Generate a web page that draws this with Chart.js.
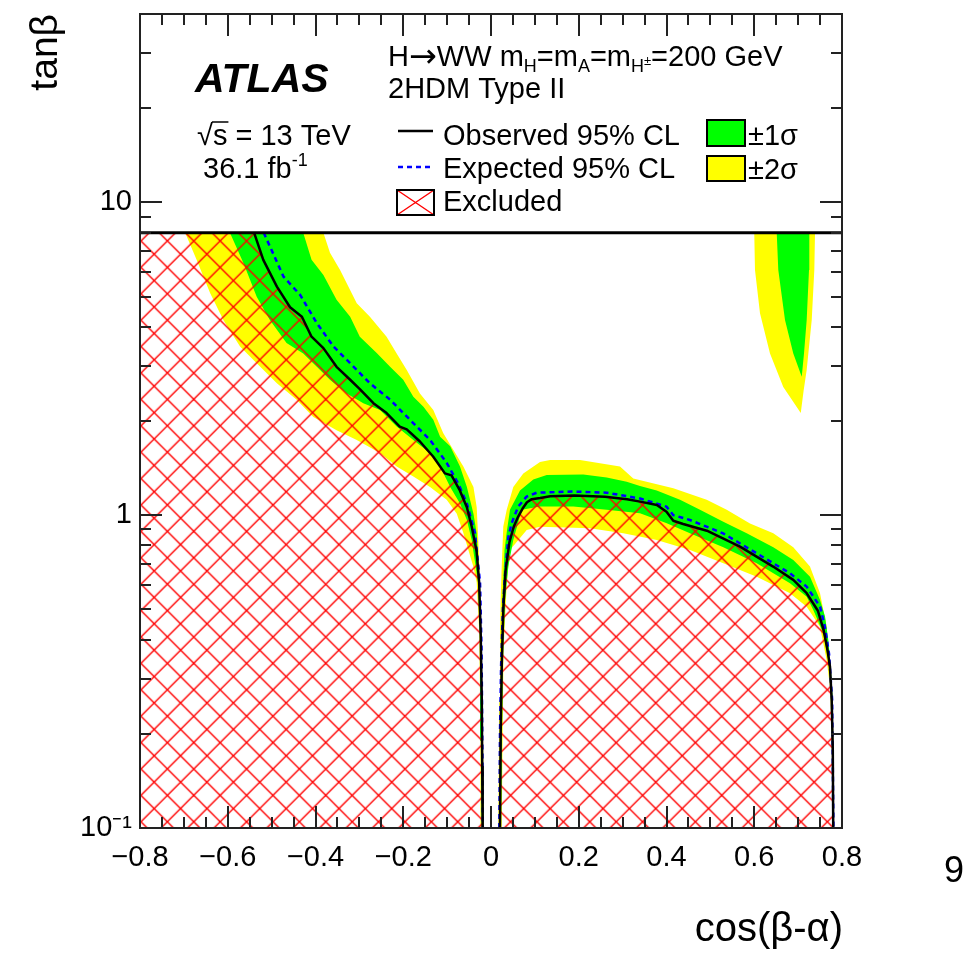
<!DOCTYPE html>
<html>
<head>
<meta charset="utf-8">
<title>tanβ vs cos(β-α)</title>
<script src="https://cdn.jsdelivr.net/npm/chart.js@4.4.1/dist/chart.umd.min.js"></script>
<style>
  html, body { margin: 0; padding: 0; background: #fff; }
  canvas { display: block; }
</style>
</head>
<body>
<canvas id="limits" width="971" height="953"></canvas>
<script>
const FONT = '"Liberation Sans", Arial, Helvetica, sans-serif';

// axes
const xRange = [-0.8, 0.8];
const yRange = [0.1, 40];
const yCut = 8; // contours end under the legend pad
const xTickValues = [-0.8, -0.6, -0.4, -0.2, 0, 0.2, 0.4, 0.6, 0.8];
const xTickLabels = ['−0.8', '−0.6', '−0.4', '−0.2', '0', '0.2', '0.4', '0.6', '0.8'];
const yTickValues = [0.1, 1, 10];
const yTickLabels = ['10⁻¹', '1', '10'];

// contours as [cos(β-α), tanβ]
const observedLeft = [
  [-0.540, 8.0], [-0.519, 6.55], [-0.488, 5.38], [-0.458, 4.62], [-0.431, 4.31], [-0.409, 3.72],
  [-0.382, 3.42], [-0.352, 2.98], [-0.321, 2.71], [-0.299, 2.53], [-0.268, 2.28], [-0.238, 2.12],
  [-0.208, 1.92], [-0.192, 1.88], [-0.162, 1.72], [-0.132, 1.54], [-0.105, 1.36], [-0.090, 1.34],
  [-0.071, 1.20], [-0.055, 1.06], [-0.044, 0.92], [-0.033, 0.77], [-0.027, 0.61], [-0.0235, 0.42],
  [-0.021, 0.256], [-0.020, 0.157], [-0.019, 0.1]
];
const observedRight = [
  [0.0205, 0.1], [0.022, 0.2], [0.0245, 0.33], [0.028, 0.5], [0.033, 0.66], [0.042, 0.82],
  [0.052, 0.92], [0.062, 0.99], [0.072, 1.05], [0.082, 1.10], [0.093, 1.125], [0.112, 1.135],
  [0.135, 1.15], [0.19, 1.155], [0.26, 1.145], [0.31, 1.125], [0.34, 1.105], [0.378, 1.078],
  [0.40, 1.026], [0.4155, 0.96], [0.438, 0.937], [0.492, 0.892], [0.5675, 0.793], [0.643, 0.685],
  [0.689, 0.621], [0.7195, 0.563], [0.745, 0.495], [0.758, 0.43], [0.767, 0.37], [0.7726, 0.328],
  [0.7765, 0.257], [0.779, 0.178], [0.780, 0.1]
];
const expectedLeft = [
  [-0.518, 8.0], [-0.473, 5.79], [-0.435, 5.06], [-0.397, 4.11], [-0.359, 3.46], [-0.321, 3.06],
  [-0.276, 2.64], [-0.230, 2.34], [-0.185, 2.02], [-0.139, 1.74], [-0.101, 1.47], [-0.0745, 1.26],
  [-0.055, 1.09], [-0.0365, 0.875], [-0.025, 0.61], [-0.0215, 0.37], [-0.0194, 0.165], [-0.0187, 0.1]
];
const expectedRight = [
  [0.019, 0.1], [0.0205, 0.2], [0.023, 0.33], [0.027, 0.5], [0.031, 0.62], [0.0395, 0.85],
  [0.047, 0.942], [0.062, 1.065], [0.081, 1.146], [0.104, 1.18], [0.1876, 1.19], [0.264, 1.18],
  [0.34, 1.13], [0.40, 1.065], [0.4155, 1.0], [0.4535, 0.965], [0.529, 0.875], [0.6056, 0.755],
  [0.6815, 0.652], [0.7195, 0.591], [0.75, 0.51], [0.761, 0.44], [0.7705, 0.36], [0.7775, 0.257],
  [0.7805, 0.1]
];

// ±2σ band edges
const yellowLeftOuter = [
  [-0.382, 8.0], [-0.367, 6.9], [-0.344, 6.08], [-0.306, 4.76], [-0.276, 4.31], [-0.238, 3.72],
  [-0.215, 3.29], [-0.192, 2.91], [-0.162, 2.45], [-0.1315, 2.17], [-0.109, 1.83], [-0.086, 1.62],
  [-0.063, 1.43], [-0.040, 1.23], [-0.0326, 1.06], [-0.029, 0.833], [-0.025, 0.61], [-0.0217, 0.37],
  [-0.018, 0.19], [-0.016, 0.1]
];
const yellowLeftInner = [
  [-0.0228, 0.1], [-0.024, 0.19], [-0.0267, 0.42], [-0.0326, 0.61], [-0.040, 0.683], [-0.063, 0.877],
  [-0.078, 1.01], [-0.101, 1.12], [-0.139, 1.23], [-0.177, 1.33], [-0.215, 1.43], [-0.253, 1.58],
  [-0.306, 1.74], [-0.352, 1.87], [-0.405, 2.06], [-0.443, 2.34], [-0.488, 2.64], [-0.534, 3.06],
  [-0.572, 3.46], [-0.610, 4.21], [-0.640, 5.12], [-0.671, 6.55], [-0.697, 8.0]
];
const yellowRightOuter = [
  [0.0166, 0.1], [0.0189, 0.257], [0.0205, 0.42], [0.0221, 0.536], [0.0244, 0.685], [0.028, 0.92],
  [0.0358, 1.04], [0.0508, 1.23], [0.0736, 1.36], [0.1117, 1.48], [0.1345, 1.50], [0.2028, 1.50],
  [0.294, 1.43], [0.3243, 1.31], [0.4155, 1.22], [0.4916, 1.12], [0.5372, 1.04], [0.5903, 0.94],
  [0.6434, 0.875], [0.689, 0.79], [0.727, 0.685], [0.7499, 0.563], [0.7651, 0.44], [0.7688, 0.371],
  [0.7765, 0.291], [0.7802, 0.2], [0.7818, 0.1]
];
const yellowRightInner = [
  [0.7788, 0.1], [0.7765, 0.2], [0.7726, 0.283], [0.7651, 0.344], [0.7499, 0.44], [0.7195, 0.51],
  [0.6815, 0.563], [0.6056, 0.636], [0.5295, 0.702], [0.4535, 0.774], [0.3777, 0.833], [0.3015, 0.875],
  [0.2256, 0.908], [0.1117, 0.918], [0.0814, 0.897], [0.0433, 0.774], [0.0358, 0.60], [0.0285, 0.37],
  [0.0244, 0.1]
];
const yellowIsland = [
  [0.600, 8.0], [0.6017, 6.08], [0.6131, 4.42], [0.6359, 3.29], [0.6662, 2.57], [0.706, 2.12],
  [0.7125, 2.5], [0.7195, 2.91], [0.731, 4.21], [0.7369, 6.08], [0.7385, 8.0]
];

// ±1σ band edges
const greenLeftOuter = [
  [-0.428, 8.0], [-0.409, 6.55], [-0.382, 5.86], [-0.352, 4.88], [-0.321, 4.31], [-0.299, 3.72],
  [-0.2605, 3.30], [-0.230, 2.98], [-0.200, 2.71], [-0.177, 2.39], [-0.154, 2.22], [-0.1315, 2.02],
  [-0.116, 1.78], [-0.093, 1.66], [-0.0707, 1.43], [-0.055, 1.23], [-0.040, 1.01], [-0.0326, 0.875],
  [-0.026, 0.61], [-0.0225, 0.37], [-0.0188, 0.19], [-0.0172, 0.1]
];
const greenLeftInner = [
  [-0.0212, 0.1], [-0.0228, 0.19], [-0.025, 0.40], [-0.0296, 0.61], [-0.044, 0.833], [-0.055, 0.965],
  [-0.0707, 1.09], [-0.093, 1.23], [-0.116, 1.43], [-0.139, 1.58], [-0.177, 1.74], [-0.215, 1.92],
  [-0.253, 2.17], [-0.291, 2.28], [-0.329, 2.45], [-0.367, 2.71], [-0.397, 2.98], [-0.428, 3.29],
  [-0.466, 3.55], [-0.504, 4.21], [-0.534, 4.99], [-0.564, 6.39], [-0.595, 8.0]
];
const greenRightOuter = [
  [0.0194, 0.1], [0.0212, 0.2], [0.0232, 0.327], [0.0262, 0.536], [0.0308, 0.774], [0.0365, 0.897],
  [0.0433, 1.04], [0.0661, 1.20], [0.0964, 1.30], [0.127, 1.345], [0.2104, 1.35], [0.2637, 1.32],
  [0.3093, 1.28], [0.3396, 1.24], [0.3777, 1.20], [0.4308, 1.12], [0.4763, 1.04], [0.5295, 0.953],
  [0.5828, 0.875], [0.6434, 0.79], [0.689, 0.719], [0.7271, 0.635], [0.7499, 0.536], [0.7613, 0.474],
  [0.7688, 0.399], [0.7742, 0.328], [0.7788, 0.257], [0.7802, 0.157], [0.7811, 0.1]
];
const greenRightInner = [
  [0.7795, 0.1], [0.7779, 0.157], [0.7749, 0.27], [0.7688, 0.344], [0.7574, 0.419], [0.7346, 0.498],
  [0.7195, 0.549], [0.6815, 0.606], [0.6056, 0.702], [0.5295, 0.79], [0.4535, 0.875], [0.4005, 0.942],
  [0.3396, 1.014], [0.2637, 1.04], [0.1876, 1.065], [0.1117, 1.065], [0.07, 1.04], [0.0508, 0.833],
  [0.0394, 0.685], [0.0319, 0.536], [0.0267, 0.327], [0.0228, 0.1]
];
const greenIsland = [
  [0.6512, 8.0], [0.6548, 6.08], [0.6701, 4.21], [0.689, 3.29], [0.7082, 2.77], [0.7134, 3.29],
  [0.7195, 4.21], [0.7248, 6.08], [0.7255, 8.0]
];

const GREEN = '#00ff00';
const YELLOW = '#ffff00';

// red cross hatch like ROOT fill style
function hatchPattern() {
  const size = 132, step = size / 5;
  const c = document.createElement('canvas');
  c.width = size; c.height = size;
  const g = c.getContext('2d');
  g.strokeStyle = '#ff0000';
  g.lineWidth = 1.4;
  for (let k = -6; k <= 11; k++) {
    const c0 = k * step;
    g.beginPath(); g.moveTo(c0 - 20, -20); g.lineTo(c0 + size + 20, size + 20); g.stroke();
    g.beginPath(); g.moveTo(c0 + 20, -20); g.lineTo(c0 - size - 20, size + 20); g.stroke();
  }
  const p = g.createPattern(c, 'repeat');
  p.setTransform(new DOMMatrix().translate(61.7, 29.7));
  return p;
}

const pts = arr => arr.map(([x, y]) => ({ x, y }));

function area(data, color, order) {
  return {
    data: pts(data), backgroundColor: color, borderColor: 'rgba(0,0,0,0)', borderWidth: 0,
    fill: 'shape', pointRadius: 0, tension: 0, order
  };
}
function curve(data, color, dash, order) {
  return {
    data: pts(data), borderColor: color, borderWidth: 2.5, borderDash: dash,
    borderJoinStyle: 'round', fill: false, pointRadius: 0, tension: 0, order
  };
}

const hatch = hatchPattern();
const corner = [[xRange[0], yRange[0]], [xRange[0], yCut]];

const datasets = [
  area(yellowLeftOuter.concat(yellowLeftInner), YELLOW, 5),
  area(yellowRightOuter.concat(yellowRightInner), YELLOW, 5),
  area(yellowIsland, YELLOW, 5),
  area(greenLeftOuter.concat(greenLeftInner), GREEN, 4),
  area(greenRightOuter.concat(greenRightInner), GREEN, 4),
  area(greenIsland, GREEN, 4),
  area(corner.concat(observedLeft), hatch, 3),
  area(observedRight, hatch, 3),
  curve(expectedLeft, '#0000ff', [5, 4], 2),
  curve(expectedRight, '#0000ff', [5, 4], 2),
  curve(observedLeft, '#000000', [], 1),
  curve(observedRight, '#000000', [], 1)
];

function rich(ctx, x, y, parts, size) {
  for (const [t, kind] of parts) {
    let s = size, dy = 0, fam = FONT;
    if (kind === 'sub') { s = size * 0.62; dy = size * 0.22; }
    if (kind === 'subsup') { s = size * 0.45; dy = -size * 0.02; }
    if (kind === 'sup') { s = size * 0.62; dy = -size * 0.42; }
    if (kind === 'arrow') { fam = '"DejaVu Sans", sans-serif'; s = size * 1.15; dy = size * 0.02; }
    ctx.font = `${s}px ${fam}`;
    ctx.fillText(t, x, y + dy);
    x += ctx.measureText(t).width;
  }
}

const atlasFrame = {
  id: 'atlasFrame',
  afterDatasetsDraw(chart) {
    const { ctx, chartArea: a, scales: { x, y } } = chart;
    const yc = y.getPixelForValue(yCut);
    ctx.save();

    // legend pad
    ctx.fillStyle = '#fff';
    ctx.fillRect(a.left, a.top, a.right - a.left, yc - a.top);
    ctx.strokeStyle = '#000';
    ctx.lineWidth = 3;
    ctx.beginPath(); ctx.moveTo(a.left, yc); ctx.lineTo(a.right, yc); ctx.stroke();

    // frame and inward ticks
    ctx.strokeStyle = '#222';
    ctx.lineWidth = 2;
    ctx.strokeRect(a.left, a.top, a.right - a.left, a.bottom - a.top);
    ctx.beginPath();
    for (let i = 0; i <= 32; i++) {
      const v = xRange[0] + i * 0.05;
      const px = Math.round(x.getPixelForValue(v));
      const len = i % 4 === 0 ? 22 : 11;
      ctx.moveTo(px, a.bottom); ctx.lineTo(px, a.bottom - len);
      ctx.moveTo(px, a.top); ctx.lineTo(px, a.top + len);
    }
    for (const d of [0.1, 1, 10]) {
      for (let m = 1; m <= 9; m++) {
        const v = m * d;
        if (v >= yRange[1]) continue;
        const py = Math.round(y.getPixelForValue(v));
        const len = m === 1 ? 22 : 11;
        ctx.moveTo(a.left, py); ctx.lineTo(a.left + len, py);
        ctx.moveTo(a.right, py); ctx.lineTo(a.right - len, py);
      }
    }
    ctx.stroke();

    // texts
    ctx.fillStyle = '#000';
    ctx.textAlign = 'left';
    ctx.textBaseline = 'alphabetic';
    ctx.font = `italic bold 41px ${FONT}`;
    ctx.fillText('ATLAS', a.left + 55, a.top + 78);

    ctx.font = `29px ${FONT}`;
    const sq = ctx.measureText('√').width;
    const sw = ctx.measureText('s').width;
    ctx.fillText('√s = 13 TeV', a.left + 57, a.top + 131);
    ctx.lineWidth = 1.5;
    ctx.strokeStyle = '#000';
    ctx.beginPath();
    ctx.moveTo(a.left + 57 + sq - 1, a.top + 108);
    ctx.lineTo(a.left + 57 + sq + sw + 1, a.top + 108);
    ctx.stroke();
    rich(ctx, a.left + 63, a.top + 164, [['36.1 fb', ''], ['-1', 'sup']], 29);

    rich(ctx, a.left + 248, a.top + 52, [
      ['H', ''], ['→', 'arrow'], ['WW m', ''], ['H', 'sub'], ['=m', ''], ['A', 'sub'], ['=m', ''],
      ['H', 'sub'], ['±', 'subsup'], ['=200 GeV', '']
    ], 29);
    ctx.font = `29px ${FONT}`;
    ctx.fillText('2HDM Type II', a.left + 248, a.top + 84);

    // legend entries
    ctx.lineWidth = 2.5;
    ctx.strokeStyle = '#000';
    ctx.beginPath(); ctx.moveTo(a.left + 258, a.top + 117); ctx.lineTo(a.left + 293, a.top + 117); ctx.stroke();
    ctx.strokeStyle = '#0000ff';
    ctx.setLineDash([5, 4]);
    ctx.beginPath(); ctx.moveTo(a.left + 258, a.top + 153); ctx.lineTo(a.left + 293, a.top + 153); ctx.stroke();
    ctx.setLineDash([]);

    const bx = a.left + 257, by = a.top + 176, bw = 37, bh = 25;
    ctx.strokeStyle = '#ff0000';
    ctx.lineWidth = 1.4;
    ctx.beginPath();
    ctx.moveTo(bx, by); ctx.lineTo(bx + bw, by + bh);
    ctx.moveTo(bx + bw, by); ctx.lineTo(bx, by + bh);
    ctx.stroke();
    ctx.strokeStyle = '#000';
    ctx.lineWidth = 2;
    ctx.strokeRect(bx, by, bw, bh);

    ctx.fillStyle = GREEN;
    ctx.fillRect(a.left + 567, a.top + 106, 38, 26);
    ctx.strokeRect(a.left + 567, a.top + 106, 38, 26);
    ctx.fillStyle = YELLOW;
    ctx.fillRect(a.left + 567, a.top + 142, 38, 25);
    ctx.strokeRect(a.left + 567, a.top + 142, 38, 25);

    ctx.fillStyle = '#000';
    ctx.font = `29px ${FONT}`;
    ctx.fillText('Observed 95% CL', a.left + 303, a.top + 131);
    ctx.fillText('Expected 95% CL', a.left + 303, a.top + 164);
    ctx.fillText('Excluded', a.left + 303, a.top + 197);
    ctx.fillText('±1σ', a.left + 608, a.top + 131);
    ctx.fillText('±2σ', a.left + 608, a.top + 165);

    // axis titles
    ctx.font = `40px ${FONT}`;
    ctx.textAlign = 'right';
    ctx.fillText('cos(β-α)', a.right + 1, 941);
    ctx.font = `39px ${FONT}`;
    ctx.save();
    ctx.translate(57, a.top);
    ctx.rotate(-Math.PI / 2);
    ctx.fillText('tanβ', 0, 0);
    ctx.restore();

    ctx.textAlign = 'left';
    ctx.font = `36px ${FONT}`;
    ctx.fillText('9', 944, 882);
    ctx.restore();
  }
};

new Chart(document.getElementById('limits'), {
  type: 'line',
  data: { datasets },
  options: {
    responsive: false,
    animation: false,
    devicePixelRatio: 1,
    events: [],
    layout: { padding: { top: 14, right: 129, bottom: 0, left: 0 } },
    plugins: { legend: { display: false }, tooltip: { enabled: false } },
    scales: {
      x: {
        type: 'linear', position: 'bottom', min: xRange[0], max: xRange[1],
        grid: { display: false, drawTicks: false }, border: { display: false },
        afterBuildTicks: s => { s.ticks = xTickValues.map(value => ({ value })); },
        afterFit: s => { s.height = 125; s.paddingLeft = 0; s.paddingRight = 0; },
        ticks: {
          autoSkip: false, maxRotation: 0, padding: 13, color: '#000',
          font: { family: FONT, size: 29 },
          callback: (v, i) => xTickLabels[i]
        }
      },
      y: {
        type: 'logarithmic', position: 'left', min: yRange[0], max: yRange[1],
        grid: { display: false, drawTicks: false }, border: { display: false },
        afterBuildTicks: s => { s.ticks = yTickValues.map(value => ({ value })); },
        afterFit: s => { s.width = 140; s.paddingTop = 0; s.paddingBottom = 0; },
        ticks: {
          autoSkip: false, padding: 8, color: '#000',
          font: { family: FONT, size: 29 },
          callback: (v, i) => yTickLabels[i]
        }
      }
    }
  },
  plugins: [atlasFrame]
});
</script>
</body>
</html>
